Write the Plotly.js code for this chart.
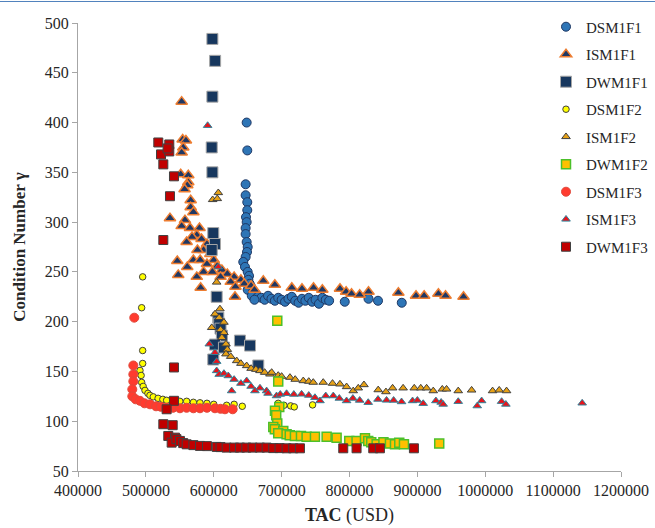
<!DOCTYPE html>
<html>
<head>
<meta charset="utf-8">
<script src="https://cdn.plot.ly/plotly-3.0.1.min.js"></script>
<style>html,body{margin:0;padding:0;background:#fff;}#chart{width:655px;height:528px;}</style>
</head>
<body>
<div id="chart"></div>
<script>
// ---- data (TAC in USD, condition number) ----
const seriesNames = ["DSM1F1","ISM1F1","DWM1F1","DSM1F2","ISM1F2","DWM1F2","DSM1F3","ISM1F3","DWM1F3"];

const dsm1f1_x = [648500,649400,647000,647000,649400,649400,647500,648500,647000,647000,648500,650000,649000,647000,643500,646000,650000,652000,651000,653000,655000,650000,658000,662000,656000,665000,670000,660000,675000,680000,685000,690000,695000,700000,705000,710000,715000,720000,725000,730000,735000,740000,745000,750000,755000,760000,765000,770000,793000,828000,842000,877000];
const dsm1f1_y = [400,372,338,327,320,312,305,300,294,288,280,275,270,265,260,255,250,246,242,238,235,232,230,228,226,225,224,222,222,226,223,221,224,222,220,223,225,221,219,223,221,224,220,222,218,224,222,221,220,223,221,219];

const ism1f1_x = [552700,554200,559000,555100,552700,551300,562500,562500,561000,557000,566000,566000,570000,535500,557600,552700,565000,579000,575000,568000,582000,560000,590000,585000,576000,595000,546300,570000,580000,561000,600000,590000,605000,547700,585000,598000,612000,575000,620000,610000,580700,630000,625000,640000,631300,645000,632000,655000,660000,673000,690000,715000,730000,747000,760000,786000,795000,803000,815000,828000,872000,898000,910000,931000,941500,968000];
const ism1f1_y = [421,383,382,375,370,348,347,340,337,333,322,315,310,304,302,296,294,294,287,285,283,280,278,272,272,268,261,262,262,255,262,258,256,247,250,250,252,245,248,245,234,245,240,242,225,238,235,236,232,241,237,234,233,234,232,233,230,228,227,230,229,226,226,228,226,225];

const dwm1f1_x = [598000,602000,598000,597000,598000,599300,601800,597000,604300,606700,608000,610000,612000,601800,615000,599300,638600,653400,665600];
const dwm1f1_y = [484,462,426,375,350,289,278,272,225,204,198,193,186,177,174,162,181,176,156];

const dsm1f2_x = [495300,493800,495300,495300,491300,493000,493800,496000,498700,503000,506000,510900,518000,525000,530600,540000,550000,560100,570000,579700,590000,600000,619000,630000,642000,695000,703400,713300,718600,745600];
const dsm1f2_y = [245,214,171,158,151,146,139,135,131,128,126,124.5,123,122,121,120.5,120,120,119,118.5,118,117,116,117,115,118,116,115.4,114.4,116.4];

const ism1f2_x = [606700,598400,605200,604300,609100,601800,608000,615000,597000,610000,615000,612000,618000,620000,618000,625000,633800,640000,648500,655000,662000,668100,675000,682800,685300,695000,700000,712300,720000,731900,740000,746600,761300,775000,785900,795700,805500,812900,821300,842300,853700,863500,879000,895400,905000,913600,923400,936700,943000,960200,979900,1010800,1020600,1031400];
const ism1f2_y = [329.5,322.5,323.5,239.6,212.8,207.7,204,199.3,194,192,189,184,177.5,172,167.5,165,160.7,158,155.7,153,152,150.7,149,147.3,149,146,145,144,142,140.6,140,139,139,138,137.3,134.6,130.5,133.3,136.6,131.5,129.5,133.3,133.3,133.3,133.3,133.3,130.5,132.2,132.2,130.5,131.2,130.5,131.2,130.5];

const dwm1f2_x = [693600,695000,696500,690200,692000,693600,687700,690000,702400,695000,707300,712000,719600,728500,736800,749100,766300,781000,799600,810400,822800,827600,832000,840000,850000,859600,867000,873300,880200,932200];
const dwm1f2_y = [201,140,114.4,110.4,106,97.6,94.3,92,90.3,88,87,86,85.2,85.2,84.5,84.5,84.5,83.5,80.2,80.2,82.9,80.2,79,76.8,79,77.5,76.8,78.5,76.8,77.5];

const dsm1f3_x = [482900,481500,481500,481500,480000,480000,485000,491300,498000,506100,515000,522000,530600,540000,550200,560000,570000,579700,590000,601800,610000,616500,627900];
const dsm1f3_y = [204,156,147,140,132,125,122,120.5,118,117,115,114.5,113.7,113.5,113,113.5,113,113,113.5,113,112.5,112,112];

const ism1f3_x = [591000,606700,593400,601800,604300,604300,608000,615000,621400,626400,630000,640000,648500,655000,660700,668100,677900,680000,692500,698000,707300,718000,729400,740000,749100,756500,765000,776100,785000,795700,805000,815000,827600,842000,854600,865000,876700,892900,900000,908600,927300,935000,938000,960200,988200,994700,1024100,1030400,1142800];
const ism1f3_y = [397,255,177.5,169,160,150.7,147,148,145.6,130.5,142,138,140.6,135,130.5,133.3,130.5,128,125.5,127,127.8,127,127.2,126,123.8,120.5,125.5,125.5,123,120.5,123,121,118.8,122,121.1,121,119.5,120.5,121,117.8,120.5,119,117,119.8,115.4,120.5,119.8,117,118.2];

const dwm1f3_x = [518300,534500,522300,534500,525700,532000,541400,535500,525700,541400,541400,530600,525700,539500,533000,542900,538000,545000,550200,555000,560100,570000,579700,590000,604300,610000,619000,630000,638600,648000,657300,668000,677900,687700,697000,707300,717100,727000,790800,810400,835000,844800,894900];
const dwm1f3_y = [380,378,368,371,358,374,346,326,282,154,120.5,112,97,96,85.2,83.5,78.5,82,80.2,78,76.8,76,75.2,75,74.2,74,73.5,73.5,73.5,73.5,73.5,73.5,73.5,73,73,72.8,72.8,72.8,72.8,72.8,72.8,72.8,72.8];

const xTickVals = [400000,500000,600000,700000,800000,900000,1000000,1100000,1200000];
const yTickVals = [50,100,150,200,250,300,350,400,450,500];

// ---- styles ----
const styles = [
  {symbol:"circle", size:9, color:"#2E75B6", line:"#1F3864", lw:1},
  {symbol:"triangle-up", size:10, color:"#1F3864", line:"#ED7D31", lw:1.5},
  {symbol:"square", size:11, color:"#17375E", line:"#A6A6A6", lw:1},
  {symbol:"circle", size:6.5, color:"#FFFF00", line:"#404040", lw:1},
  {symbol:"triangle-up", size:7.5, color:"#E6A117", line:"#404040", lw:1},
  {symbol:"square", size:9, color:"#FFC000", line:"#4CC02A", lw:1.5},
  {symbol:"circle", size:9, color:"#FF3B2F", line:"#E04A3C", lw:1},
  {symbol:"triangle-up", size:7.5, color:"#E8141C", line:"#31849B", lw:1},
  {symbol:"square", size:9, color:"#C00000", line:"#404040", lw:1}
];
const xs = [dsm1f1_x, ism1f1_x, dwm1f1_x, dsm1f2_x, ism1f2_x, dwm1f2_x, dsm1f3_x, ism1f3_x, dwm1f3_x];
const ys = [dsm1f1_y, ism1f1_y, dwm1f1_y, dsm1f2_y, ism1f2_y, dwm1f2_y, dsm1f3_y, ism1f3_y, dwm1f3_y];

const traces = seriesNames.map((n, i) => ({
  type: "scatter", mode: "markers", name: n, legendgroup: n,
  x: xs[i], y: ys[i],
  marker: {symbol: styles[i].symbol, size: styles[i].size, color: styles[i].color,
           line: {color: styles[i].line, width: styles[i].lw}},
  cliponaxis: false
}));

const serif = "'Liberation Serif', 'DejaVu Serif', serif";
const layout = {
  width: 655, height: 528,
  margin: {l: 78, r: 34, t: 23, b: 57, autoexpand: false},
  paper_bgcolor: "#ffffff", plot_bgcolor: "#ffffff",
  font: {family: serif, color: "#262626", size: 16},
  showlegend: true,
  legend: {x: 546/655, xref: "container", xanchor: "left", y: 1.028, yanchor: "top",
           traceorder: "grouped", tracegroupgap: 5, font: {family: serif, size: 15, color: "#262626"},
           bgcolor: "rgba(0,0,0,0)", itemwidth: 30, maxheight: 1},
  xaxis: {range: [400000, 1200000], tickvals: xTickVals, ticktext: xTickVals.map(String),
          showline: true, linecolor: "#A6A6A6", linewidth: 1, ticks: "outside", ticklen: 5,
          tickcolor: "#A6A6A6", showgrid: false, zeroline: false, automargin: false,
          tickfont: {family: serif, size: 16, color: "#262626"},
          title: {text: "<b>TAC</b> (USD)", font: {family: serif, size: 18, color: "#262626"}, standoff: 10}},
  yaxis: {range: [50, 500], tickvals: yTickVals, ticktext: yTickVals.map(String),
          showline: true, linecolor: "#A6A6A6", linewidth: 1, ticks: "outside", ticklen: 5,
          tickcolor: "#A6A6A6", showgrid: false, zeroline: false, automargin: false,
          tickfont: {family: serif, size: 16, color: "#262626"},
          title: {text: "<b>Condition Number γ</b>", font: {family: serif, size: 17, color: "#262626"}, standoff: 14}},
  shapes: [{type: "line", xref: "paper", yref: "paper", x0: -0.2, x1: 1.1, y0: 1.048, y1: 1.048,
            line: {color: "#4F81BD", width: 1}}]
};

Plotly.newPlot("chart", traces, layout, {displayModeBar: false, staticPlot: true});
</script>
</body>
</html>
